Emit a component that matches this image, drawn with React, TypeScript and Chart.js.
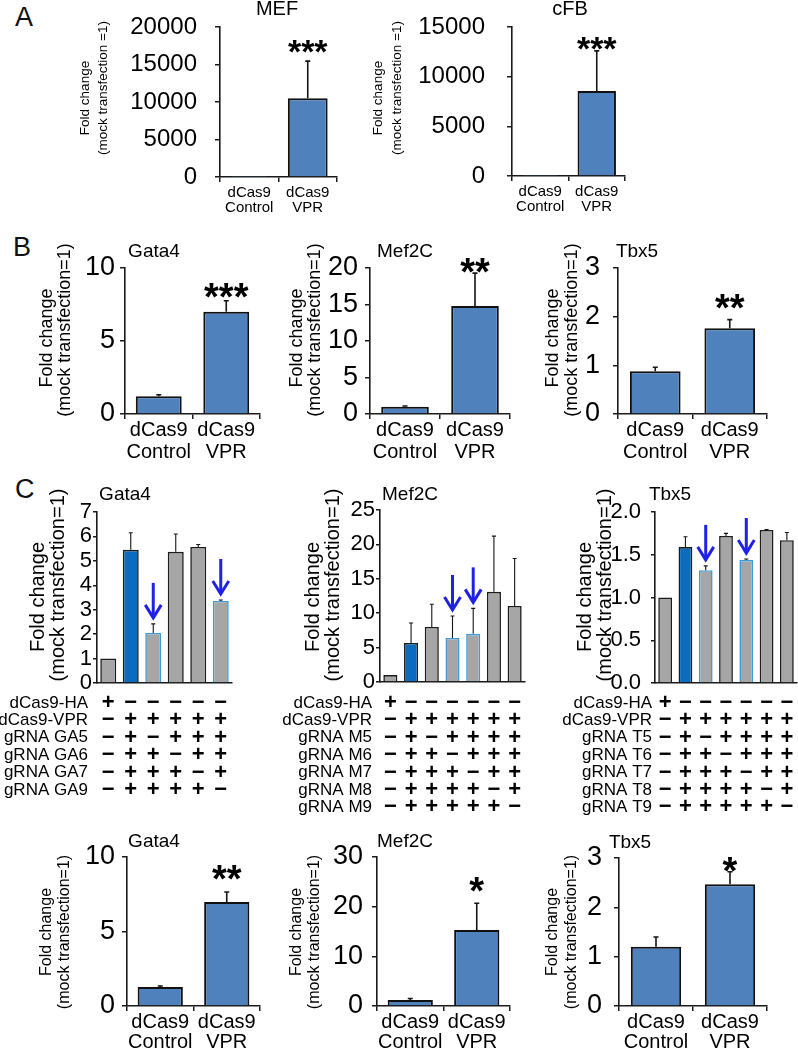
import React, { useEffect, useRef } from "react";
import { Chart, registerables } from "chart.js";

Chart.register(...registerables);

const FONT = "'Liberation Sans', Arial, Helvetica, sans-serif";

// ---------------- data ----------------
const twoGroupLabels = [["dCas9", "Control"], ["dCas9", "VPR"]];

// Panel A
const mefValues = [1, 10500];
const mefErrors = [0, 4950];
const mefTicks = [0, 5000, 10000, 15000, 20000];
const mefTickLabels = ["0", "5000", "10000", "15000", "20000"];
const cfbValues = [1, 8550];
const cfbErrors = [0, 4050];
const cfbTicks = [0, 5000, 10000, 15000];
const cfbTickLabels = ["0", "5000", "10000", "15000"];

// Panel B
const bGata4Values = [1.22, 7.0];
const bGata4Errors = [0.1, 0.76];
const bGata4Ticks = [0, 5, 10];
const bMef2cValues = [1.0, 14.8];
const bMef2cErrors = [0.1, 4.5];
const bMef2cTicks = [0, 5, 10, 15, 20];
const bTbx5Values = [0.88, 1.76];
const bTbx5Errors = [0.08, 0.18];
const bTbx5Ticks = [0, 1, 2, 3];

// Panel C
const cGata4Groups = ["HA", "VPR all", "VPR -GA5", "VPR -GA6", "VPR -GA7", "VPR -GA9"];
const cGata4Values = [1.0, 5.45, 2.05, 5.37, 5.57, 3.36];
const cGata4Errors = [0, 0.7, 0.37, 0.73, 0.1, 0.04];
const cGata4Kinds = ["gray", "blue", "marked", "gray", "gray", "marked"];
const cGata4Ticks = [0, 1, 2, 3, 4, 5, 6, 7];
const cGata4RowLabels = ["dCas9-HA", "dCas9-VPR", "gRNA GA5", "gRNA GA6", "gRNA GA7", "gRNA GA9"];
const cGata4Rows = ["+-----", "-+++++", "-+-+++", "-++-++", "-+++-+", "-++++-"];

const cMef2cGroups = ["HA", "VPR all", "VPR -M5", "VPR -M6", "VPR -M7", "VPR -M8", "VPR -M9"];
const cMef2cValues = [1.0, 5.67, 8.0, 6.4, 7.0, 13.1, 11.05];
const cMef2cErrors = [0, 2.9, 3.3, 3.2, 3.7, 8.1, 6.9];
const cMef2cKinds = ["gray", "blue", "gray", "marked", "marked", "gray", "gray"];
const cMef2cTicks = [0, 5, 10, 15, 20, 25];
const cMef2cRowLabels = ["dCas9-HA", "dCas9-VPR", "gRNA M5", "gRNA M6", "gRNA M7", "gRNA M8", "gRNA M9"];
const cMef2cRows = ["+------", "-++++++", "-+-++++", "-++-+++", "-+++-++", "-++++-+", "-+++++-"];

const cTbx5Groups = ["HA", "VPR all", "VPR -T5", "VPR -T6", "VPR -T7", "VPR -T8", "VPR -T9"];
const cTbx5Values = [1.0, 1.59, 1.32, 1.72, 1.44, 1.79, 1.67];
const cTbx5Errors = [0, 0.12, 0.05, 0.03, 0.01, 0.005, 0.09];
const cTbx5Kinds = ["gray", "blue", "marked", "gray", "marked", "gray", "gray"];
const cTbx5Ticks = [0, 0.5, 1, 1.5, 2];
const cTbx5TickLabels = ["0.0", "0.5", "1.0", "1.5", "2.0"];
const cTbx5RowLabels = ["dCas9-HA", "dCas9-VPR", "gRNA T5", "gRNA T6", "gRNA T7", "gRNA T8", "gRNA T9"];
const cTbx5Rows = ["+------", "-++++++", "-+-++++", "-++-+++", "-+++-++", "-++++-+", "-+++++-"];

// bottom row
const dGata4Values = [1.27, 6.98];
const dGata4Errors = [0.07, 0.67];
const dGata4Ticks = [0, 5, 10];
const dMef2cValues = [1.2, 15.3];
const dMef2cErrors = [0.3, 5.4];
const dMef2cTicks = [0, 10, 20, 30];
const dTbx5Values = [1.2, 2.47];
const dTbx5Errors = [0.2, 0.25];
const dTbx5Ticks = [0, 1, 2, 3];

// ---------------- styles ----------------
const AXIS = "#1a1a1a";
const BAR_BLUE = "#4f81bd";
const BAR_EDGE = "#111111";
const C_GRAY = "#a6a6a6";
const C_BLUE = "#0b6cbf";
const C_EDGE = "#1c1c1c";
const MARK_EDGE = "#3f9bd8";
const ARROW = "#1f22e6";

const YT = ["Fold change", "(mock transfection=1)"];
const YT_A = ["Fold change", "(mock transfection =1)"];

function cFills(kinds: string[]) {
  return kinds.map((k) => (k === "blue" ? C_BLUE : C_GRAY));
}
function cEdges(kinds: string[]) {
  return kinds.map((k) => (k === "marked" ? MARK_EDGE : C_EDGE));
}
function marked(kinds: string[]) {
  return kinds.map((k, i) => (k === "marked" ? i : -1)).filter((i) => i >= 0);
}
function fmtLabels(ticks: number[]) {
  return ticks.map((v) => String(v));
}

const twoBar = {
  fills: [BAR_BLUE, BAR_BLUE],
  edges: [BAR_EDGE, BAR_EDGE],
  borderW: 2,
  errW: 1.6,
  capW: 5,
  barPct: 0.68,
  showX: true,
  yTickLen: 5,
};

const specs: any[] = [
  {
    ...twoBar,
    key: "A-MEF",
    canvas: { x: 60, y: 0, w: 290, h: 225 },
    area: { l: 220, t: 27, r: 337, b: 177 },
    labels: twoGroupLabels, values: mefValues, errors: mefErrors,
    yTicks: mefTicks, yTickLabels: mefTickLabels,
    tickFont: 24, tickGap: 23,
    xFont: 15, xLine: 15, xPad: 3,
    title: { text: "MEF", x: 277, y: 9, size: 20 },
    yTitle: { lines: YT_A, xs: [85, 103], ys: [98, 88], size: 13.5 },
    stars: { text: "***", index: 1, y: 43, size: 34 },
  },
  {
    ...twoBar,
    key: "A-cFB",
    canvas: { x: 360, y: 0, w: 280, h: 225 },
    area: { l: 512, t: 27, r: 625, b: 176 },
    labels: twoGroupLabels, values: cfbValues, errors: cfbErrors,
    yTicks: cfbTicks, yTickLabels: cfbTickLabels,
    tickFont: 24, tickGap: 27,
    xFont: 15, xLine: 15, xPad: 3,
    title: { text: "cFB", x: 570, y: 9, size: 20 },
    yTitle: { lines: YT_A, xs: [378, 397], ys: [98, 88], size: 13.5 },
    stars: { text: "***", index: 1, y: 40, size: 34 },
  },
  {
    ...twoBar,
    key: "B-Gata4",
    canvas: { x: 20, y: 230, w: 250, h: 235 },
    area: { l: 125, t: 268, r: 260, b: 414 },
    labels: twoGroupLabels, values: bGata4Values, errors: bGata4Errors,
    yTicks: bGata4Ticks, yTickLabels: fmtLabels(bGata4Ticks),
    tickFont: 27, tickGap: 10,
    xFont: 20, xLine: 22, xPad: 0,
    title: { text: "Gata4", x: 154, y: 252, size: 19 },
    yTitle: { lines: YT, xs: [47, 65], ys: [338, 330], size: 18 },
    stars: { text: "***", index: 1, y: 288, size: 38 },
  },
  {
    ...twoBar,
    key: "B-Mef2C",
    canvas: { x: 275, y: 230, w: 245, h: 235 },
    area: { l: 370, t: 268, r: 510, b: 414 },
    labels: twoGroupLabels, values: bMef2cValues, errors: bMef2cErrors,
    yTicks: bMef2cTicks, yTickLabels: fmtLabels(bMef2cTicks),
    tickFont: 27, tickGap: 12,
    xFont: 20, xLine: 22, xPad: 0,
    title: { text: "Mef2C", x: 405, y: 252, size: 19 },
    yTitle: { lines: YT, xs: [297, 315], ys: [338, 330], size: 18 },
    stars: { text: "**", index: 1, y: 263, size: 38 },
  },
  {
    ...twoBar,
    key: "B-Tbx5",
    canvas: { x: 530, y: 230, w: 245, h: 235 },
    area: { l: 618, t: 268, r: 767, b: 414 },
    labels: twoGroupLabels, values: bTbx5Values, errors: bTbx5Errors,
    yTicks: bTbx5Ticks, yTickLabels: fmtLabels(bTbx5Ticks),
    tickFont: 27, tickGap: 18,
    xFont: 20, xLine: 22, xPad: 0,
    title: { text: "Tbx5", x: 637, y: 252, size: 19 },
    yTitle: { lines: YT, xs: [553, 572], ys: [338, 330], size: 18 },
    stars: { text: "**", index: 1, y: 299, size: 38 },
  },
  {
    key: "C-Gata4",
    canvas: { x: 0, y: 475, w: 240, h: 345 },
    area: { l: 97, t: 512, r: 232, b: 683 },
    labels: cGata4Groups, values: cGata4Values, errors: cGata4Errors,
    fills: cFills(cGata4Kinds), edges: cEdges(cGata4Kinds), borderW: 1.6, errW: 1.1, capW: 4,
    barPct: 0.71, showX: false, yTickLen: 4,
    yTicks: cGata4Ticks, yTickLabels: fmtLabels(cGata4Ticks),
    tickFont: 22, tickGap: 5,
    title: { text: "Gata4", x: 125, y: 495, size: 19 },
    yTitle: { lines: YT, xs: [38, 58], ys: [597, 585], size: 20 },
    arrows: marked(cGata4Kinds),
    table: { labels: cGata4RowLabels, rows: cGata4Rows, right: 88, y0: 703, step: 17.4, size: 17, sym: 22 },
  },
  {
    key: "C-Mef2C",
    canvas: { x: 245, y: 475, w: 285, h: 345 },
    area: { l: 380, t: 510, r: 525, b: 682 },
    labels: cMef2cGroups, values: cMef2cValues, errors: cMef2cErrors,
    fills: cFills(cMef2cKinds), edges: cEdges(cMef2cKinds), borderW: 1.6, errW: 1.1, capW: 4,
    barPct: 0.68, showX: false, yTickLen: 4,
    yTicks: cMef2cTicks, yTickLabels: fmtLabels(cMef2cTicks),
    tickFont: 22, tickGap: 5,
    title: { text: "Mef2C", x: 410, y: 495, size: 19 },
    yTitle: { lines: YT, xs: [313, 333], ys: [597, 585], size: 20 },
    arrows: marked(cMef2cKinds),
    table: { labels: cMef2cRowLabels, rows: cMef2cRows, right: 372, y0: 703, step: 17.4, size: 17, sym: 22 },
  },
  {
    key: "C-Tbx5",
    canvas: { x: 520, y: 475, w: 278, h: 345 },
    area: { l: 655, t: 512, r: 797, b: 683 },
    labels: cTbx5Groups, values: cTbx5Values, errors: cTbx5Errors,
    fills: cFills(cTbx5Kinds), edges: cEdges(cTbx5Kinds), borderW: 1.6, errW: 1.1, capW: 4,
    barPct: 0.68, showX: false, yTickLen: 4,
    yTicks: cTbx5Ticks, yTickLabels: cTbx5TickLabels,
    tickFont: 22, tickGap: 14,
    title: { text: "Tbx5", x: 670, y: 495, size: 19 },
    yTitle: { lines: YT, xs: [585, 605], ys: [597, 585], size: 20 },
    arrows: marked(cTbx5Kinds),
    table: { labels: cTbx5RowLabels, rows: cTbx5Rows, right: 652, y0: 703, step: 17.4, size: 17, sym: 22 },
  },
  {
    ...twoBar,
    key: "D-Gata4",
    canvas: { x: 20, y: 825, w: 250, h: 224 },
    area: { l: 127, t: 857, r: 260, b: 1006 },
    labels: twoGroupLabels, values: dGata4Values, errors: dGata4Errors,
    yTicks: dGata4Ticks, yTickLabels: fmtLabels(dGata4Ticks),
    tickFont: 27, tickGap: 12,
    xFont: 20, xLine: 20, xPad: 1,
    title: { text: "Gata4", x: 154, y: 842, size: 19 },
    yTitle: { lines: YT, xs: [47, 65], ys: [932, 932], size: 16 },
    stars: { text: "**", index: 1, y: 870, size: 38 },
  },
  {
    ...twoBar,
    key: "D-Mef2C",
    canvas: { x: 275, y: 825, w: 245, h: 224 },
    area: { l: 377, t: 857, r: 510, b: 1006 },
    labels: twoGroupLabels, values: dMef2cValues, errors: dMef2cErrors,
    yTicks: dMef2cTicks, yTickLabels: fmtLabels(dMef2cTicks),
    tickFont: 27, tickGap: 14,
    xFont: 20, xLine: 20, xPad: 1,
    title: { text: "Mef2C", x: 405, y: 842, size: 19 },
    yTitle: { lines: YT, xs: [297, 315], ys: [932, 932], size: 16 },
    stars: { text: "*", index: 1, y: 882, size: 38 },
  },
  {
    ...twoBar,
    key: "D-Tbx5",
    canvas: { x: 530, y: 825, w: 245, h: 224 },
    area: { l: 619, t: 858, r: 767, b: 1006 },
    labels: twoGroupLabels, values: dTbx5Values, errors: dTbx5Errors,
    yTicks: dTbx5Ticks, yTickLabels: fmtLabels(dTbx5Ticks),
    tickFont: 27, tickGap: 17,
    xFont: 20, xLine: 20, xPad: 1,
    title: { text: "Tbx5", x: 630, y: 843, size: 19 },
    yTitle: { lines: YT, xs: [553, 572], ys: [932, 932], size: 16 },
    stars: { text: "*", index: 1, y: 862, size: 38 },
  },
];

function extrasPlugin(s: any) {
  return {
    id: "extras",
    afterDraw(chart: any) {
      const ctx = chart.ctx as CanvasRenderingContext2D;
      const xs = chart.scales.x;
      const ys = chart.scales.y;
      const ox = s.canvas.x;
      const oy = s.canvas.y;
      ctx.save();
      // error bars
      ctx.strokeStyle = "#151515";
      ctx.lineWidth = s.errW;
      s.values.forEach((v: number, i: number) => {
        const e = s.errors[i];
        if (!e) return;
        const x = xs.getPixelForValue(i);
        const y0 = ys.getPixelForValue(v);
        const y1 = ys.getPixelForValue(v + e);
        ctx.beginPath();
        ctx.moveTo(x, y0);
        ctx.lineTo(x, y1);
        ctx.moveTo(x - s.capW / 2, y1);
        ctx.lineTo(x + s.capW / 2, y1);
        ctx.stroke();
      });
      ctx.fillStyle = "#000";
      // title
      if (s.title) {
        ctx.font = `${s.title.size}px ${FONT}`;
        ctx.textAlign = "center";
        ctx.textBaseline = "middle";
        ctx.fillText(s.title.text, s.title.x - ox, s.title.y - oy);
      }
      // y title
      if (s.yTitle) {
        ctx.font = `${s.yTitle.size}px ${FONT}`;
        ctx.textAlign = "center";
        ctx.textBaseline = "middle";
        s.yTitle.lines.forEach((ln: string, k: number) => {
          ctx.save();
          ctx.translate(s.yTitle.xs[k] - ox, s.yTitle.ys[k] - oy);
          ctx.rotate(-Math.PI / 2);
          ctx.fillText(ln, 0, 0);
          ctx.restore();
        });
      }
      // significance stars
      if (s.stars) {
        ctx.font = `bold ${s.stars.size}px ${FONT}`;
        ctx.textAlign = "center";
        ctx.textBaseline = "alphabetic";
        const x = xs.getPixelForValue(s.stars.index);
        ctx.fillText(s.stars.text, x, s.stars.y - oy + 0.58 * s.stars.size);
      }
      // arrows
      if (s.arrows) {
        ctx.strokeStyle = ARROW;
        ctx.lineWidth = 3;
        ctx.lineCap = "butt";
        s.arrows.forEach((i: number) => {
          const x = xs.getPixelForValue(i);
          const tip = ys.getPixelForValue(s.values[i] + s.errors[i]) - 6;
          ctx.beginPath();
          ctx.moveTo(x, tip - 35);
          ctx.lineTo(x, tip - 1);
          ctx.stroke();
          ctx.beginPath();
          ctx.moveTo(x - 8, tip - 13);
          ctx.lineTo(x, tip);
          ctx.lineTo(x + 8, tip - 13);
          ctx.stroke();
        });
      }
      // condition table
      if (s.table) {
        const t = s.table;
        ctx.fillStyle = "#000";
        t.labels.forEach((lab: string, r: number) => {
          const y = t.y0 + r * t.step - oy;
          ctx.font = `${t.size}px ${FONT}`;
          ctx.textAlign = "right";
          ctx.textBaseline = "middle";
          ctx.fillText(lab, t.right - ox, y);
          ctx.font = `bold ${t.sym}px ${FONT}`;
          ctx.textAlign = "center";
          t.rows[r].split("").forEach((c: string, i: number) => {
            ctx.fillText(c === "+" ? "+" : "\u2212", xs.getPixelForValue(i), y);
          });
        });
      }
      ctx.restore();
    },
  };
}

function buildConfig(s: any) {
  const cv = s.canvas;
  const area = s.area;
  const yw = area.l - cv.x;
  const padTop = area.t - cv.y;
  const padRight = cv.x + cv.w - area.r;
  const xh = cv.y + cv.h - area.b;
  const zeroPad = (sc: any) => {
    sc.paddingLeft = 0;
    sc.paddingRight = 0;
    sc.paddingTop = 0;
    sc.paddingBottom = 0;
  };
  return {
    type: "bar",
    data: {
      labels: s.labels,
      datasets: [
        {
          data: s.values,
          backgroundColor: s.fills,
          borderColor: s.edges,
          borderWidth: s.borderW,
          barPercentage: s.barPct,
          categoryPercentage: 1,
        },
      ],
    },
    options: {
      responsive: false,
      maintainAspectRatio: false,
      animation: false,
      events: [],
      layout: { autoPadding: false, padding: { left: 0, top: padTop, right: padRight, bottom: 0 } },
      plugins: { legend: { display: false }, tooltip: { enabled: false }, title: { display: false } },
      scales: {
        x: {
          type: "category",
          offset: true,
          grid: {
            display: s.showX,
            drawOnChartArea: false,
            drawTicks: true,
            tickLength: 5,
            color: AXIS,
            lineWidth: 1.5,
            offset: true,
          },
          border: { display: true, color: AXIS, width: 1.6 },
          ticks: {
            display: s.showX,
            color: "#000",
            font: { family: FONT, size: s.xFont || 12, lineHeight: (s.xLine || 14) + "px" },
            padding: s.xPad || 0,
            autoSkip: false,
            maxRotation: 0,
            minRotation: 0,
          },
          afterFit: (sc: any) => {
            sc.height = xh;
            zeroPad(sc);
          },
        },
        y: {
          type: "linear",
          min: 0,
          max: s.yTicks[s.yTicks.length - 1],
          afterBuildTicks: (sc: any) => {
            sc.ticks = s.yTicks.map((v: number) => ({ value: v }));
          },
          grid: {
            display: true,
            drawOnChartArea: false,
            drawTicks: true,
            tickLength: s.yTickLen,
            color: AXIS,
            lineWidth: 1.5,
          },
          border: { display: true, color: AXIS, width: 1.6 },
          ticks: {
            color: "#000",
            autoSkip: false,
            font: { family: FONT, size: s.tickFont },
            padding: Math.max(0, s.tickGap - s.yTickLen),
            callback: (_v: any, i: number) => s.yTickLabels[i],
          },
          afterFit: (sc: any) => {
            sc.width = yw;
            zeroPad(sc);
          },
        },
      },
    },
    plugins: [extrasPlugin(s)],
  };
}

function ChartBox({ spec }: { spec: any }) {
  const ref = useRef<HTMLCanvasElement | null>(null);
  useEffect(() => {
    if (!ref.current) return;
    const chart = new Chart(ref.current, buildConfig(spec) as any);
    return () => chart.destroy();
  }, [spec]);
  return (
    <canvas
      ref={ref}
      width={spec.canvas.w}
      height={spec.canvas.h}
      style={{
        position: "absolute",
        left: spec.canvas.x,
        top: spec.canvas.y,
        width: spec.canvas.w,
        height: spec.canvas.h,
      }}
    />
  );
}

const panelLetters = [
  { text: "A", x: 15, y: 4 },
  { text: "B", x: 13, y: 234 },
  { text: "C", x: 15, y: 476 },
];

export default function App() {
  return (
    <div
      style={{
        position: "absolute",
        left: 0,
        top: 0,
        width: 798,
        height: 1049,
        background: "#fff",
        overflow: "hidden",
        fontFamily: FONT,
      }}
    >
      {panelLetters.map((p) => (
        <div
          key={p.text}
          style={{
            position: "absolute",
            left: p.x,
            top: p.y,
            fontSize: 27,
            lineHeight: "27px",
            color: "#111",
          }}
        >
          {p.text}
        </div>
      ))}
      {specs.map((s) => (
        <ChartBox key={s.key} spec={s} />
      ))}
    </div>
  );
}
